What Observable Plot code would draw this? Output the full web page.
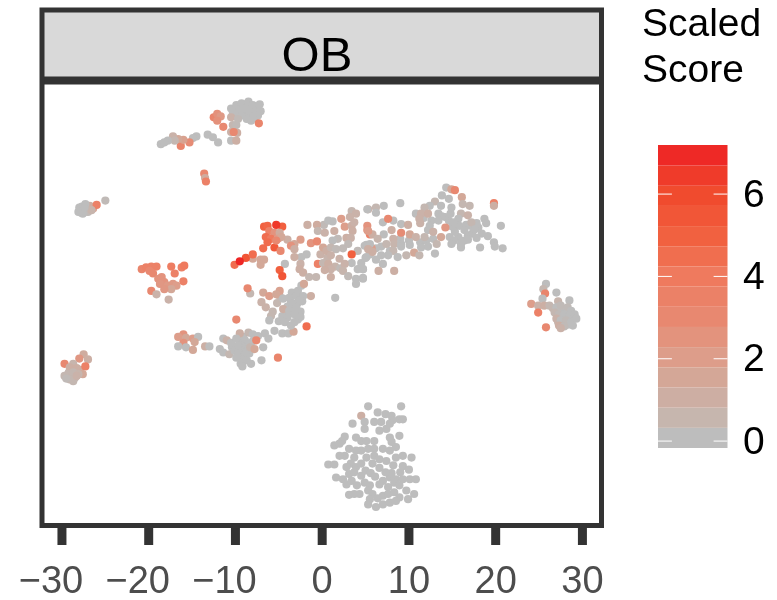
<!DOCTYPE html>
<html>
<head>
<meta charset="utf-8">
<script src="https://cdn.jsdelivr.net/npm/d3@7"></script>
<script src="https://cdn.jsdelivr.net/npm/@observablehq/plot@0.6"></script>
<style>
html,body{margin:0;padding:0;background:#fff;}
#root{position:relative;width:777px;height:600px;overflow:hidden;font-family:"Liberation Sans",Arial,sans-serif;}
#root svg{position:absolute;top:0;background:transparent;overflow:visible;filter:blur(0.45px);}
#title{position:absolute;left:642px;top:0px;font-size:39px;line-height:46px;color:#000;filter:blur(0.45px);}
</style>
</head>
<body>
<div id="root"><div id="title">Scaled<br>Score</div></div>
<script>
// every point: [tSNE x, tSNE y, scaled score]
const topArc = [[-10.5,22.4,.3],[-9.9,22.8,.3],[-9.3,23,.2],[-8.5,23.2,.2],[-8,22.8,.2],[-7.2,22.9,.1],[-7.1,22.1,.1],[-7.4,21.6,.1],[-8,21.8,.2],[-8.5,22.2,.2],[-9.1,22.4,.3],[-9.7,22,.3],[-10.3,21.9,.3],[-9.3,21.6,.3],[-8.7,21.2,.2],[-8.2,21,.2],[-10.5,21.4,.8],[-9.7,21.2,.4],[-7.3,20.7,3.2],[-12.5,21.4,3.2],[-12.1,21.8,2.6],[-11.7,21.5,2.2],[-12.1,21,2.6],[-11.4,20.3,3],[-10.3,20.5,.5],[-9.9,20.5,.4],[-10.5,19.7,.8],[-9.8,19.6,1],[-10.2,19.7,3],[-10.5,18.7,.3],[-9.9,18.7,1],[-13.2,19.4,.3],[-12.6,19.1,.3],[-12,18.5,.3],[-14.5,19.2,.3],[-14.9,19,.3],[-15.3,18.5,2.8],[-16.3,18.1,3.2],[-16,18.8,1.8],[-16.6,18.9,1.5],[-17.2,19.2,.8],[-17,18.7,.5],[-17.8,18.7,.3],[-18.6,18.3,.3],[-18.2,18.5,.3],[-13.6,14.9,3],[-13.5,14.4,1.2],[-13.4,14,3.5]];
const hotSpot = [[-4,7.3,1],[-2.5,7.3,2],[-3.2,6.8,1.5],[-3.6,6.6,2.5],[-3.2,6.2,1],[-6.7,8.8,5],[-6.3,8.9,4.8],[-4.6,8.8,5],[-6.1,8.3,3.5],[-5.5,8.1,2.5],[-4.9,8.1,1.2],[-6.5,7.6,4.5],[-5.9,7.4,4],[-5.1,7.4,2],[-4.7,7.6,1.5],[-6.8,6.3,4.5],[-6.3,7,4.5],[-5.5,6.4,5.3],[-4.8,6,3],[-5.3,7.2,3],[-5.3,9,6.5],[-8,5.1,1.5],[-7.1,5,1.5],[-6.7,5,1.5],[-7.1,4.4,1.5],[-10.1,4.4,4.5],[-8.8,5.2,5.5],[-8,5.6,4.5],[-9.5,4.8,7],[-4.3,4.5,.3],[-4.9,3.8,5],[-4.6,3.1,5.5],[-8.3,1.1,.5],[-8.6,1.7,3],[-9.9,-1.9,3],[-1.8,-2.7,4.5]];
const midBand = [[-1.7,9,1],[-.6,9,1.2],[-.5,8.3,.5],[.3,8.1,.8],[1.4,8.3,1],[.7,9.5,.3],[1.2,9.4,.3],[2.2,9.7,2],[3.4,10.6,.5],[3.9,10.3,.8],[3.2,9.9,.8],[2.6,8.8,2],[3.4,8.9,1],[3.5,8.3,1],[3.7,9.3,.8],[5.2,10.8,.3],[-1.3,6.9,2.5],[-.6,7.1,3],[.1,6.4,1.5],[.5,6,1],[1.2,7.2,.3],[1,6.4,.5],[1.6,6.2,.4],[2.8,7.5,1],[3.3,7.5,.8],[3,6.8,.4],[4.1,6,.4],[4.9,6.6,.3],[5.5,6.8,.3],[5,5.2,.3],[5.3,8.3,2],[5.3,6.2,1],[3.4,5.6,5],[-1.8,5.6,.3],[-2.4,5.3,.3],[-3.2,5.3,1],[-2.5,4.5,.8],[-2.6,3.9,1],[-2.2,3.5,1],[-1.5,3,.5],[-.7,3,.5],[-.5,4.5,3.5],[.1,4.6,.5],[1,5.5,.8],[.7,4.5,1],[1,3.9,.8],[.3,3.8,1],[1,3,1],[2,5.1,.8],[2.6,4.5,.8],[2.4,3.7,.6],[3,3.1,.4],[4.1,3.9,.3],[4.7,3.9,.3],[3.9,2.8,.3],[4.7,2.9,.3],[3.9,2.2,.3]];
const lowerMid = [[-6.8,1.2,1.5],[-6.1,.8,2],[-4.9,1.4,1.8],[-5.3,1,1.5],[-2.4,2,.3],[-2.1,2.2,1.5],[-1.3,.8,1],[1.5,.6,.3],[-7,.1,.8],[-6.5,-.5,.8],[-5.9,-1.5,.5],[-6.1,-2,.3],[-4.5,.5,.3],[-3.8,.6,.3],[-3,.8,.3],[-2.2,.8,.3],[-2.6,.3,.3],[-3.4,-.1,.3],[-4.5,-.7,1],[-3.8,-.9,.3],[-3,-.5,.3],[-3.2,-1.3,.3],[-2.5,-1.6,.3],[-4,-1.7,.3],[-4.3,-2.2,.3],[-3.2,-2.2,.3],[-3.6,-2.6,.3]];
const rightBand = [[14.3,13.3,.3],[14.9,13.1,1.5],[15.3,13,3],[13.8,12.4,.3],[13,11.7,.5],[12.4,11.2,.3],[11.8,11,.5],[14.6,12,.3],[16.1,12.2,1.5],[16.2,11.4,.5],[17,11.2,.5],[13.7,11.2,.3],[14.9,11,.3],[19.8,11.5,3.5],[19.8,11.2,1],[9,11.5,.3],[7.1,11.2,.3],[6.2,11,.5],[5.3,10.8,.8],[6.2,10.4,.3],[10.8,10.3,.3],[11.4,10.3,.8],[12.2,10.3,1],[11.2,9.7,.8],[11.3,9.2,.8],[13.4,10.3,.3],[13.4,9.5,.3],[16,10.3,.5],[16.8,10.1,.8],[15.7,9.7,.3],[17.2,9.3,.5],[15.2,9.3,.3],[18.7,9.7,.3],[18.9,9.2,.3],[20.6,8.9,.3],[18,8.7,.3],[17.6,8.5,.3],[16.4,8.4,.3],[14.2,8.7,2.3],[12.4,8.9,.3],[12.2,8.4,.3],[15.3,8.2,.3],[7,9.3,.3],[8.2,9.5,.3],[7.6,9.7,3],[5.2,8.9,2.5],[5.2,8.4,2.5],[5.5,7.9,3.5],[5.8,7.9,1],[9.1,9.1,.3],[9.9,9,1],[8,8.4,1],[9.1,8.1,2.8],[10.1,7.9,1.5],[10.8,7.6,.8],[11.8,7.6,.5],[12.8,8.2,.8],[13.7,7.6,1.5],[13.2,6.8,.5],[7.1,7.9,.3],[6.4,7.4,.6],[8.2,7.4,.8],[7.4,6.8,.5],[5.7,6.3,2],[5.1,6.7,.3],[8.3,6.8,.6],[9.1,6.8,.3],[10.1,6.7,.3],[11.4,6.4,.3],[12.2,6.5,.3],[14.9,6.8,.3],[16,6.8,.3],[16.8,7.3,.3],[16,6.4,.3],[18.2,6.4,.3],[19.1,7.7,.3],[19.8,7,.3],[19.9,6.5,.3],[20.8,6.3,.3],[9.1,6.5,.3],[13,5.7,.3],[9.7,5.5,.5],[10.6,5.8,1.5],[11.2,5.5,.5],[8.2,6,.5],[7.6,5.5,.3],[6.8,5.5,.3],[8.7,5.3,.3],[5.1,5.3,.3],[7,4.5,.3],[6.5,3.7,1],[8.3,3.7,1],[4.7,3.9,.3],[4.7,2.8,.3],[5.8,5.9,1]];
const leftRed = [[-20.8,3.9,3.2],[-20.3,4.1,3.5],[-19.7,4.2,3.5],[-19.1,4.2,3.5],[-19.9,3.7,3],[-19.5,3.4,3],[-17.4,4.2,3.8],[-16.2,4.1,3.5],[-15.9,4.3,4],[-17,3.4,3.5],[-18.9,2.8,2.5],[-18.5,3,2.5],[-18.2,2.4,2.5],[-18.7,2.2,2.3],[-17.8,2,2.2],[-17.2,2.2,2.2],[-16.8,2,2],[-16,2.5,3.5],[-17.4,1.6,1.5],[-18.2,1.6,2.3],[-19.7,1.4,3],[-19.1,1,.8],[-17.7,.4,.8]];
const lowerLeft = [[-16,-3.6,2.5],[-16.6,-3.9,2],[-15.7,-4,1.5],[-14.9,-4.1,2],[-14.3,-3.9,.3],[-14.7,-4.5,1.5],[-16,-4.6,2.5],[-16.6,-5,.3],[-15.7,-5.1,.3],[-14.9,-5.4,1.5],[-13.5,-5,1],[-13,-5,.3]];
const lowerCore = [[-11.4,-4.1,.3],[-11,-4.3,.8],[-11.8,-5.3,.3],[-11.4,-5.7,.3],[-10.7,-5.9,.5],[-10.1,-5.5,.3],[-10.5,-4.6,.3],[-9.5,-3.5,1],[-8.5,-3.4,.5],[-8,-3.6,.3],[-7.4,-3.8,.3],[-9.9,-4.1,.3],[-8.9,-4.3,.3],[-9.3,-4.9,.3],[-8.3,-5.1,.5],[-9.7,-5.5,.3],[-8.9,-5.9,.3],[-9.3,-6.5,.3],[-9.9,-6.3,.3],[-8.7,-6.6,.3],[-9.2,-7.3,.3],[-8.2,-7,.3],[-7,-6.6,.3],[-7.6,-4.3,3],[-7.8,-5.3,1.5],[-6.8,-5.1,.3],[-6.2,-4.1,.3],[-6.6,-3.5,.3],[-5.1,-6.3,3.2],[-5.5,-3.2,.3],[-4.6,-3.5,.3],[-3.9,-3.5,.3],[-3.3,-3.3,1.5],[-9.7,-4.9,.3]];
const bottomBlob = [[4.5,-13,1],[5.3,-11.9,.1],[6.4,-12.6,.1],[7.3,-12.8,.1],[8,-13,.1],[9.1,-11.9,.1],[8.9,-13.4,.1],[9.3,-13.4,.1],[8.1,-13.5,.1],[3.5,-13.9,.1],[4.9,-13.7,.1],[6,-13.7,.1],[6.8,-13.7,.1],[7.8,-13.9,.1],[4.9,-14.5,.1],[6.6,-14.7,.1],[7.4,-14.5,.1],[2.6,-15.4,.1],[2.3,-15.9,.1],[1.4,-16.4,.1],[2,-16.2,.1],[3.9,-15.5,.1],[4.5,-15.9,.1],[5.1,-15.9,.1],[6,-15.9,.1],[7.8,-15.5,.1],[8.9,-15.3,.1],[8,-16,.1],[8.5,-16.6,.1],[7.8,-17,.1],[3.1,-16.8,.1],[3.9,-17,.1],[4.5,-17,.1],[5.3,-16.8,.1],[6,-16.8,.1],[7,-16.8,.1],[2.6,-17.6,.1],[2,-17.6,.1],[3.7,-17.8,.1],[5.1,-17.8,.1],[6,-17.6,.1],[6.6,-18,.1],[7.4,-18.2,.1],[8.5,-17.8,.1],[9.3,-17.6,.1],[10.3,-17.8,.1],[.7,-18.6,.1],[1.4,-18.6,.1],[3.3,-18.5,.1],[2.8,-18.9,.1],[3.9,-18.9,.1],[4.5,-18.5,.1],[5.8,-18.5,.1],[6.6,-19,.1],[8.2,-18.7,.1],[9.3,-18.8,.1],[3.1,-19.7,.1],[3.7,-19.5,.1],[4.5,-19.9,.1],[1.6,-20.1,.1],[2.4,-20.3,.1],[2.8,-20.9,.1],[4.9,-20.7,.1],[5.5,-21,.1],[7,-20.5,.1],[6.6,-20.9,.1],[7.8,-20.1,.1],[8.5,-20.3,.1],[9.3,-20.3,.1],[10.1,-20.3,.1],[10.8,-20.3,.1],[5.3,-21.6,.1],[5.8,-22,.1],[7.6,-21.2,.1],[8.3,-20.7,.1],[8.9,-21,.1],[9.7,-21.6,.1],[10.6,-22,.1],[3.1,-22.1,.1],[3.7,-22,.1],[4.3,-22,.1],[5.5,-22.6,.1],[7,-22.2,.1],[7.6,-22,.1],[8.3,-21.8,.1],[8.9,-22.4,.1],[9.9,-22.6,.1],[5.3,-23.2,.1],[6.2,-23.5,.1],[7,-23.2,.1],[7.8,-23,.1],[8.5,-22.8,.1],[5,-19.3,.1],[5.6,-19.6,.1],[6.1,-20,.1],[3.4,-20.5,.1],[4,-21,.1],[6.4,-22.5,.1],[9,-19.5,.1],[8,-19.6,.1],[10,-19.2,.1],[7.3,-19.5,.1]];
const farRight = [[25.8,2.2,.3],[25.5,1.6,.5],[25.7,1.1,3.2],[27,1.2,.3],[25.4,.5,.3],[24.1,-.1,2],[24.9,-.3,.8],[25.6,-.3,1],[24.9,-1.1,3.5],[26.2,-.3,.5],[27.2,.2,.6],[28.5,.3,.3],[27,-.5,.3],[27.5,-.3,.4],[28.3,-.5,.4],[28.7,-.9,.3],[26.8,-1.1,.5],[27.3,-1.3,.4],[27.9,-1.3,.3],[28.5,-1.5,.3],[29.1,-1.3,.3],[29.3,-1.8,.3],[27,-1.8,.8],[27.5,-2,.3],[28.1,-2,.4],[28.7,-2.2,.3],[27.3,-2.6,1],[27.9,-2.7,.4],[28.9,-2.6,.3],[27.5,-2.9,.8],[25.8,-2.8,3]];
const farLeftUpper = [[-25,11.8,.4],[-26.4,10.9,1.8],[-26.8,11.2,1],[-26,11.3,3.5],[-27.3,11.4,.3],[-27.8,10.8,.3],[-27.4,10.5,.3],[-27,10.5,.4],[-26.6,10.7,.6],[-27.6,10.3,.3],[-28.1,10.5,.3],[-27.4,11,.3]];
const farLeftLower = [[-27.5,-5.9,1.2],[-28,-6.4,2.3],[-27,-6.5,1],[-27.3,-7.3,3.5],[-29.7,-7,3],[-28.7,-7,.6],[-29.1,-7.4,1],[-28.3,-7.5,1],[-27.6,-8.2,1.5],[-29.3,-8.2,.5],[-29.7,-8.4,.5],[-28.7,-8,.5],[-28.1,-8.2,.6],[-29.1,-8.8,.5],[-28.7,-9,.5],[-29.5,-8.7,.4],[-28.3,-8.4,.8]];
// grey cells hidden inside the dense clumps
const denseGrey = [[-10,21.8,.2],[-9.5,22.5,.2],[-8.9,22.9,.2],[-8.2,22.4,.2],[-7.7,22.3,.2],[-8.9,21.7,.2],[-7.8,21.3,.2],[-9,22,.2],[-8.5,21.6,.2],[27.2,-.9,.3],[27.7,-.8,.3],[28.1,-1,.3],[28.4,-1.1,.3],[27.6,-1.6,.3],[28,-1.6,.3],[28.3,-1.8,.3],[27.2,-2.2,.5],[27.8,-2.3,.3],[28.3,-2.5,.3],[28.9,-1.7,.3],[26.6,-.6,.6],[-29.2,-8,.5],[-28.9,-7.7,.5],[-28.5,-7.8,.6],[-28.5,-8.6,.5],[-28.9,-8.4,.5],[-27.9,-7.7,1],[-27.8,10.4,.3],[-27.2,10.8,.3],[-27.7,11.1,.3],[-28,11,.3],[-27,10.9,.3],[14.6,9.5,.2],[15,8.8,.2],[15.8,8.9,.2],[16.6,9,.2],[17.1,8.9,.2],[17.8,9.2,.2],[17.3,8,.2],[16.8,7.8,.2],[15.7,7.6,.2],[14.7,7.6,.2],[15.2,7.2,.2],[16.4,7.2,.2],[14.2,9.9,.2],[14.8,10.3,.2],[13.8,10,.2],[11.7,9.8,.3],[12.6,9.5,.3],[18.4,8,.2],[17.8,7.5,.2],[10,7.2,.3],[11.3,7,.3],[12,7.2,.3],[12.8,7.4,.3],[9,7.4,.3],[6.8,6.5,.3],[7.8,6,.3],[6.2,6.3,.3],[5.5,5.6,.3],[6.2,5,.3],[4.5,4.6,.3],[-3.5,1.2,.2],[-2.8,1.4,.2],[-2.9,-.1,.2],[-3.6,.1,.2],[-4,-.4,.2],[-2.5,-1,.2],[-3.4,-.7,.2],[-2.8,-1.9,.2],[-3.9,-1.2,.2],[-5.2,0,.5],[-5.7,-1,.5],[-4.6,-1.5,.2],[-5,-2.1,.2],[-2.3,.2,.2],[-4.9,.8,.5],[-9.3,-4.3,.2],[-8.6,-4.7,.2],[-9,-5.4,.2],[-8.4,-5.8,.2],[-9.5,-5.9,.2],[-8.9,-6.6,.2],[-10.4,-5.1,.2],[-8,-4.4,.2],[-9.1,-3.9,.2],[-9.4,-7,.2],[1.8,7.4,.4],[2.4,6.3,.4],[.6,5.2,.6],[1.5,4.2,.6],[2.1,4,.4],[3.4,4.6,.3],[.2,9,.4],[-.2,5.6,.8]];

const xTicks = [-30,-20,-10,0,10,20,30];
const negativeTicks = [-30,-20,-10];
const otherTicks = [0,10,20,30];
const legendTicks = [0,2,4,6];
const legendEdges = [-0.18,0.31,0.80,1.29,1.78,2.27,2.76,3.25,3.74,4.23,4.72,5.21,5.70,6.19,6.68,7.18];
const scoreStops = [0,0.31,0.55,1.05,1.5,2,3,4,5,6,7.18];
const scoreColors = ["#bdbdbd","#bdbdbd","#c6b6ae","#cdaea3","#d3a898","#dd9e8b","#e88870","#ef7a5e","#f1603f","#f04a2d","#ee2024"];
const stripLabel = ["OB"];

const points = [...denseGrey,...bottomBlob,...farLeftUpper,...farLeftLower,...farRight,...topArc,...leftRed,...lowerLeft,...lowerCore,...lowerMid,...rightBand,...midBand,...hotSpot];
const colorOpts = {type:"linear",domain:scoreStops,range:scoreColors};
const font = '"Liberation Sans",Arial,sans-serif';
const minus = d=>String(d).replace("-","\u2212");

const main = Plot.plot({
  width:640,height:600,marginLeft:41.5,marginRight:39,marginTop:9.5,marginBottom:75,
  style:{fontFamily:font,background:"transparent"},
  x:{domain:[-32.3,32.2]},
  y:{domain:[-25.63,33.76],axis:null},
  color:colorOpts,
  marks:[
    Plot.rect(stripLabel,{x1:-32.3,x2:32.2,y1:25.63,y2:33.76,fill:"#d9d9d9"}),
    Plot.dot(points,{x:d=>d[0],y:d=>d[1],fill:d=>d[2],r:4.1,stroke:null}),
    Plot.ruleY([25.63],{stroke:"#333",strokeWidth:8}),
    Plot.frame({stroke:"#333",strokeWidth:5}),
    Plot.text(stripLabel,{x:-0.6,y:25.63,text:d=>d,dy:-25.5,fontSize:49,fill:"#000",lineAnchor:"middle"}),
    Plot.axisX({ticks:xTicks,tickSize:20,strokeWidth:9,stroke:"#333",fill:"none",label:null}),
    Plot.axisX({ticks:negativeTicks,tickSize:0,stroke:"none",fill:"#4d4d4d",fontSize:38,tickPadding:41,dx:-11,label:null,tickFormat:minus}),
    Plot.axisX({ticks:otherTicks,tickSize:0,stroke:"none",fill:"#4d4d4d",fontSize:38,tickPadding:41,label:null,tickFormat:minus})
  ]
});
main.style.left="0px";
const legend = Plot.plot({
  width:137,height:600,marginLeft:18,marginRight:49.5,marginTop:145,marginBottom:152,
  style:{fontFamily:font,background:"transparent"},
  x:{domain:[0,1],axis:null},
  y:{domain:[legendEdges[0],legendEdges[legendEdges.length-1]]},
  color:colorOpts,
  marks:[
    Plot.rect(legendEdges.slice(1),{x1:0,x2:1,y1:(d,i)=>legendEdges[i],y2:d=>d,fill:(d,i)=>(legendEdges[i]+d)/2}),
    Plot.ruleY(legendTicks,{x1:0,x2:0.2,stroke:"#fff",strokeWidth:1}),
    Plot.ruleY(legendTicks,{x1:0.8,x2:1,stroke:"#fff",strokeWidth:1}),
    Plot.axisY({anchor:"right",ticks:legendTicks,tickSize:0,tickPadding:15,fontSize:39,fill:"#000",label:null})
  ]
});
legend.style.left="640px";
document.getElementById("root").append(main,legend);
</script>
</body>
</html>
